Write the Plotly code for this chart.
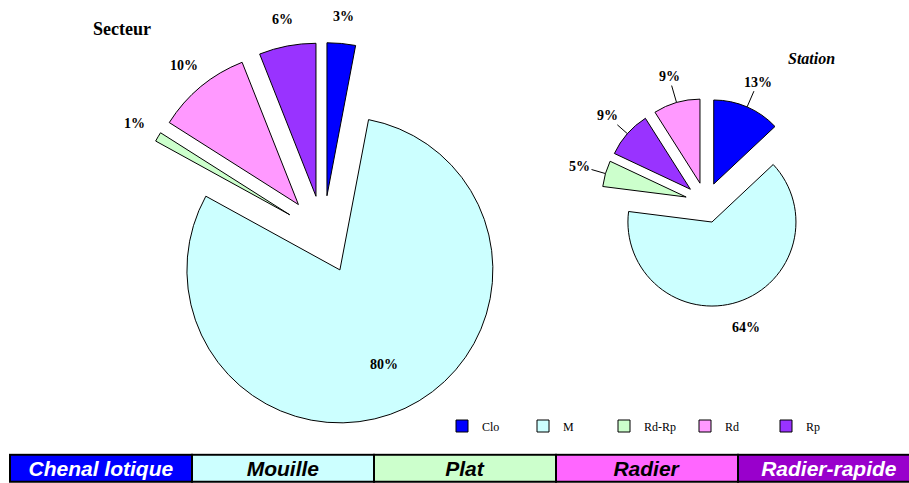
import math
import plotly.graph_objects as go

# Habitat classes and their colours
classes = ["Clo", "M", "Rd-Rp", "Rd", "Rp"]
class_colors = {"Clo": "#0000FF", "M": "#CCFFFF", "Rd-Rp": "#CCFFCC", "Rd": "#FF99FF", "Rp": "#9933FF"}

# Sector composition (%)
secteur_labels = ["Clo", "M", "Rd-Rp", "Rd", "Rp"]
secteur_values = [3, 80, 1, 10, 6]

# Station composition (%)
station_labels = ["Clo", "M", "Rd-Rp", "Rp", "Rd"]
station_values = [13, 64, 5, 9, 9]

# Habitat key band
band_names = ["Chenal lotique", "Mouille", "Plat", "Radier", "Radier-rapide"]
band_fill = ["#0000FF", "#CCFFFF", "#CCFFCC", "#FF66FF", "#9900CC"]
band_text = ["white", "black", "black", "black", "white"]

W, H = 909, 483
label_font = dict(family="Liberation Serif", size=14, color="black", weight="bold")

pies = [
    dict(labels=secteur_labels, values=secteur_values, pull=0.255,
         domain=dict(x=[0.1444, 0.5669], y=[0.1168, 0.9118]),
         inside=["M"], leader=False),
    dict(labels=station_labels, values=station_values, pull=0.242,
         domain=dict(x=[0.6615, 0.8911], y=[0.3642, 0.7965]),
         inside=[], leader=True),
]

fig = go.Figure()
annotations = []

for p in pies:
    n = len(p["values"])
    fig.add_trace(go.Pie(
        labels=p["labels"], values=p["values"],
        sort=False, direction="clockwise", rotation=0,
        pull=[p["pull"]] * n,
        marker=dict(colors=[class_colors[c] for c in p["labels"]],
                    line=dict(color="black", width=1)),
        textinfo="none",
        domain=p["domain"],
        hoverinfo="skip",
    ))

    # Same pie geometry as plotly's pie layout (margins are zero)
    dx, dy = p["domain"]["x"], p["domain"]["y"]
    box_w, box_h = (dx[1] - dx[0]) * W, (dy[1] - dy[0]) * H
    r = min(box_w, box_h) / (2 + 2 * p["pull"])
    cx = (dx[0] + dx[1]) / 2 * W
    cy = (1 - (dy[0] + dy[1]) / 2) * H
    total = sum(p["values"])
    gap = 27
    cum = 0
    for lab, val in zip(p["labels"], p["values"]):
        mid = 2 * math.pi * (cum + val / 2) / total
        cum += val
        ux, uy = math.sin(mid), -math.cos(mid)
        apx, apy = cx + p["pull"] * r * ux, cy + p["pull"] * r * uy
        text = f"<b>{val}%</b>"
        if lab in p["inside"]:
            px, py = apx + 0.68 * r * ux, apy + 0.68 * r * uy
            annotations.append(dict(text=text, x=px / W, y=1 - py / H, xref="paper", yref="paper",
                                    xanchor="center", yanchor="middle", showarrow=False,
                                    font=label_font))
        elif p["leader"] and lab != "M":
            ex, ey = apx + r * ux, apy + r * uy
            annotations.append(dict(text=text, x=ex / W, y=1 - ey / H, xref="paper", yref="paper",
                                    ax=gap * ux, ay=gap * uy, showarrow=True, arrowhead=0,
                                    arrowwidth=1, arrowcolor="black", standoff=0,
                                    font=label_font))
        else:
            px, py = apx + (r + gap) * ux, apy + (r + gap) * uy
            annotations.append(dict(text=text, x=px / W, y=1 - py / H, xref="paper", yref="paper",
                                    xanchor="center", yanchor="middle", showarrow=False,
                                    font=label_font))

# Bottom key band drawn as adjoining bar cells
cell_width = [1] * len(band_names)
cell_base = [sum(cell_width[:i]) for i in range(len(band_names))]
fig.add_trace(go.Bar(
    x=cell_width, base=cell_base, y=[0] * len(band_names),
    orientation="h", width=1,
    marker=dict(color=band_fill, line=dict(color="black", width=2)),
    text=band_names, textposition="inside", insidetextanchor="middle",
    constraintext="none", textangle=0,
    textfont=dict(family="Liberation Sans", size=21, weight="bold", style="italic", color=band_text),
    showlegend=False, hoverinfo="skip",
))

annotations += [
    dict(text="<b>Secteur</b>", x=122 / W, y=1 - 29 / H, xref="paper", yref="paper",
         xanchor="center", yanchor="middle", showarrow=False,
         font=dict(family="Liberation Serif", size=18, color="black")),
    dict(text="<b><i>Station</i></b>", x=811 / W, y=1 - 58 / H, xref="paper", yref="paper",
         xanchor="center", yanchor="middle", showarrow=False,
         font=dict(family="Liberation Serif", size=16, color="black")),
]

fig.update_layout(
    width=W, height=H,
    margin=dict(l=0, r=0, t=0, b=0, autoexpand=False),
    paper_bgcolor="white", plot_bgcolor="white",
    barmode="overlay",
    xaxis=dict(domain=[0, 1], range=[-10 / 182, (W - 10) / 182],
               visible=False, fixedrange=True),
    yaxis=dict(domain=[0, 0.0615], range=[-0.55, 0.55],
               visible=False, fixedrange=True),
    legend=dict(orientation="h", x=442 / W, y=1 - 426 / H, xanchor="left", yanchor="middle",
                entrywidth=36, entrywidthmode="pixels", traceorder="normal",
                font=dict(family="Liberation Serif", size=12, color="black"),
                bgcolor="rgba(0,0,0,0)"),
    annotations=annotations,
)

fig.write_html("out.html")
